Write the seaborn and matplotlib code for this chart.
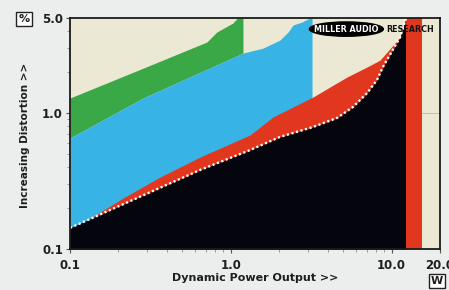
import numpy as np
import pandas as pd
import matplotlib
matplotlib.use("Agg")
import matplotlib.pyplot as plt
from matplotlib.patches import Ellipse
import seaborn as sns

# ---- data (log-log axes) ----
black_x = [0.1, 0.643, 1.316, 2.02, 3.24, 4.57, 5.75, 7.03, 8.11, 8.83, 11.3, 12.3]
black_y = [0.143, 0.381, 0.534, 0.667, 0.789, 0.919, 1.107, 1.40, 1.75, 2.18, 3.62, 5.0]

red_x = [0.1, 0.13, 0.214, 0.363, 0.643, 1.316, 1.83, 3.24, 5.28, 7.03, 8.47, 11.3, 12.3]
red_y = [0.143, 0.165, 0.237, 0.338, 0.474, 0.689, 0.935, 1.31, 1.84, 2.18, 2.45, 3.62, 5.0]

blue_top_x = [0.1, 0.285, 1.19, 1.585, 2.02, 2.27, 2.44, 2.77, 3.1, 3.2]
blue_top_y = [0.655, 1.29, 2.76, 3.0, 3.44, 3.94, 4.44, 4.67, 5.0, 5.0]

green_top_x = [0.1, 0.272, 0.71, 0.82, 1.03, 1.1, 1.19]
green_top_y = [1.29, 2.09, 3.33, 3.95, 4.59, 5.0, 5.0]

red_band = [12.3, 15.5]

x_ticks = [0.1, 1.0, 10.0, 20.0]
x_tick_labels = ["0.1", "1.0", "10.0", "20.0"]
y_ticks = [0.1, 1.0, 5.0]
y_tick_labels = ["0.1", "1.0", "5.0"]

# ---- colours ----
CREAM = "#ebe9d3"
BG = "#eceeee"
GREEN = "#3aa846"
BLUE = "#38b3e6"
RED = "#e2371f"
BLACK = "#05050d"

sns.set_style("white")
plt.rcParams["font.family"] = ["DejaVu Sans"]

fig = plt.figure(figsize=(4.49, 2.90), dpi=100, facecolor=BG)
ax = fig.add_axes([70 / 449, 41 / 290, 370 / 449, 231 / 290])
ax.set_facecolor(CREAM)
ax.set_xscale("log")
ax.set_yscale("log")
ax.set_xlim(0.1, 20.0)
ax.set_ylim(0.1, 5.0)


def logi(xq, xs, ys):
    return 10 ** np.interp(np.log10(xq), np.log10(xs), np.log10(ys))


# green: between blue top and green top
gx = np.unique(np.concatenate([green_top_x, [v for v in blue_top_x if v <= max(green_top_x)]]))
ax.fill_between(gx, logi(gx, blue_top_x, blue_top_y), logi(gx, green_top_x, green_top_y),
                color=GREEN, lw=0)

# blue: between black / red top and blue top
bx = np.unique(np.concatenate([blue_top_x, [v for v in red_x if v <= max(blue_top_x)],
                               [v for v in black_x if v <= max(blue_top_x)]]))
ax.fill_between(bx, 0.1, logi(bx, blue_top_x, blue_top_y), color=BLUE, lw=0)

# red: below red top
rx = np.unique(np.concatenate([red_x, black_x]))
ax.fill_between(rx, 0.1, logi(rx, red_x, red_y), color=RED, lw=0)

# black
kx = np.array(black_x)
ax.fill_between(kx, 0.1, black_y, color=BLACK, lw=0)

# vertical red band
ax.axvspan(red_band[0], red_band[1], color=RED, lw=0)
ax.axhline(1.0, color="#b8b8b0", lw=0.6, zorder=0.5)

# dotted white boundary line on top of the black area
df = pd.DataFrame({"x": black_x, "y": black_y})
sns.lineplot(data=df, x="x", y="y", ax=ax, color="white", lw=1.7,
             linestyle=(0, (0.9, 1.1)), sort=True, estimator=None)
ax.set_xlabel("")
ax.set_ylabel("")

# logo
ax.add_patch(Ellipse((0.747, 0.952), 0.2, 0.062, transform=ax.transAxes,
                     color="black", zorder=5))
ax.text(0.747, 0.950, "MILLER AUDIO", transform=ax.transAxes, color="white",
        fontsize=5.8, fontweight="heavy", ha="center", va="center", zorder=6)
ax.text(0.92, 0.950, "RESEARCH", transform=ax.transAxes, color="#111111",
        fontsize=5.8, fontweight="heavy", ha="center", va="center", zorder=6)

# frame and ticks
for s in ax.spines.values():
    s.set_visible(True)
    s.set_color("#1a1a1a")
    s.set_linewidth(1.3)
ax.set_xticks(x_ticks)
ax.set_xticklabels(x_tick_labels)
ax.set_yticks(y_ticks)
ax.set_yticklabels(y_tick_labels)
ax.tick_params(axis="both", which="major", direction="out", length=3, width=0.8,
               color="#555555", labelsize=8.5, labelcolor="#1e1e1e", pad=2,
               bottom=True, left=True)
ax.tick_params(axis="x", which="major", pad=4)
ax.tick_params(axis="both", which="minor", direction="out", length=2, width=0.6,
               color="#888888", bottom=True, left=True)
for lab in ax.get_xticklabels() + ax.get_yticklabels():
    lab.set_fontweight("bold")

fig.text(255 / 449, 1 - 278 / 290, "Dynamic Power Output >>", fontsize=8,
         fontweight="bold", color="#1e1e1e", ha="center", va="center")
fig.text(25 / 449, 1 - 135 / 290, "Increasing Distortion >>", fontsize=7.5,
         fontweight="bold", color="#1e1e1e", ha="center", va="center", rotation=90)

box = dict(boxstyle="square,pad=0.2", fc="white", ec="#222222", lw=1.0)
fig.text(24 / 449, 1 - 19 / 290, "%", fontsize=8, fontweight="bold", color="#1e1e1e",
         ha="center", va="center", bbox=box)
fig.text(437 / 449, 1 - 281 / 290, "W", fontsize=8, fontweight="bold", color="#1e1e1e",
         ha="center", va="center", bbox=box)

fig.savefig("out.png", dpi=100, facecolor=BG)
